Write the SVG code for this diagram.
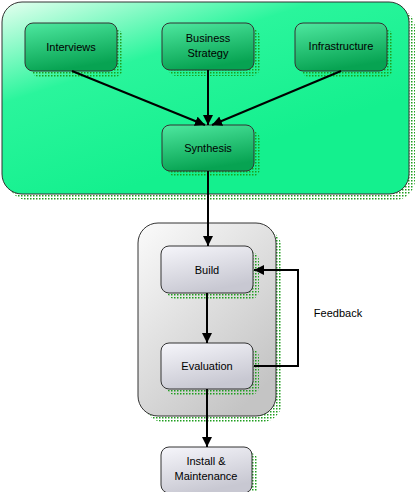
<svg xmlns="http://www.w3.org/2000/svg" width="416" height="492" viewBox="0 0 416 492">
<defs>
  <pattern id="dots" width="3" height="3" patternUnits="userSpaceOnUse">
    <rect x="0" y="0" width="1.5" height="1.5" fill="#1e9e1e"/>
  </pattern>
  <linearGradient id="gBig" x1="0" y1="0" x2="0.55" y2="0.8">
    <stop offset="0" stop-color="#e6fff0"/>
    <stop offset="0.45" stop-color="#2af59c"/>
    <stop offset="1" stop-color="#14f08e"/>
  </linearGradient>
  <linearGradient id="gNode" x1="0" y1="0" x2="0.3" y2="1">
    <stop offset="0" stop-color="#4ee8a0"/>
    <stop offset="1" stop-color="#07a352"/>
  </linearGradient>
  <linearGradient id="gGray" x1="0" y1="0" x2="0.7" y2="1">
    <stop offset="0" stop-color="#fbfbfb"/>
    <stop offset="1" stop-color="#c4c4c4"/>
  </linearGradient>
  <linearGradient id="gGNode" x1="0" y1="0" x2="0.4" y2="1">
    <stop offset="0" stop-color="#f6f6fb"/>
    <stop offset="1" stop-color="#c8c8d2"/>
  </linearGradient>
  <marker id="arr" viewBox="0 0 10 10" refX="10" refY="5" markerWidth="10" markerHeight="10" markerUnits="userSpaceOnUse" orient="auto">
    <path d="M0,0 L10,5 L0,10 z" fill="#000"/>
  </marker>
</defs>
<style>
  .shadow { fill: url(#dots); }
  .box { stroke: #333; stroke-width: 1; }
  .gn { fill: url(#gNode); }
  .gg { fill: url(#gGNode); }
  text { font-family: "Liberation Sans", Arial, sans-serif; font-size: 11px; fill: #000; text-anchor: middle; }
  .conn path, .conn line { stroke: #000; stroke-width: 2; fill: none; marker-end: url(#arr); }
</style>

<g id="group-discovery">
  <rect class="shadow" x="8" y="8" width="407" height="192" rx="20"/>
  <rect x="2" y="2" width="407" height="192" rx="20" fill="url(#gBig)" class="box"/>
</g>
<g id="group-dev">
  <rect class="shadow" x="144" y="229" width="138" height="193" rx="20"/>
  <rect x="138" y="223" width="138" height="193" rx="20" fill="url(#gGray)" class="box"/>
</g>

<g id="interviews">
  <rect class="shadow" x="31" y="29" width="92" height="48" rx="8"/>
  <rect class="box gn" x="25" y="23" width="92" height="48" rx="8"/>
  <text x="71" y="51">Interviews</text>
</g>
<g id="business-strategy">
  <rect class="shadow" x="168" y="29" width="92" height="47" rx="8"/>
  <rect class="box gn" x="162" y="23" width="92" height="47" rx="8"/>
  <text x="208" y="42">Business</text>
  <text x="208" y="57">Strategy</text>
</g>
<g id="infrastructure">
  <rect class="shadow" x="301" y="29" width="92" height="48" rx="8"/>
  <rect class="box gn" x="295" y="23" width="92" height="48" rx="8"/>
  <text x="341" y="50">Infrastructure</text>
</g>
<g id="synthesis">
  <rect class="shadow" x="168" y="131" width="92" height="46" rx="8"/>
  <rect class="box gn" x="162" y="125" width="92" height="46" rx="8"/>
  <text x="208" y="152">Synthesis</text>
</g>
<g id="build">
  <rect class="shadow" x="167" y="252" width="92" height="47" rx="8"/>
  <rect class="box gg" x="161" y="246" width="92" height="47" rx="8"/>
  <text x="207" y="274">Build</text>
</g>
<g id="evaluation">
  <rect class="shadow" x="167" y="349" width="92" height="46" rx="8"/>
  <rect class="box gg" x="161" y="343" width="92" height="46" rx="8"/>
  <text x="207" y="370">Evaluation</text>
</g>
<g id="install">
  <rect class="shadow" x="167" y="453" width="91" height="46" rx="8"/>
  <rect class="box gg" x="161" y="447" width="91" height="46" rx="8"/>
  <text x="206" y="465">Install  &amp;</text>
  <text x="206" y="480">Maintenance</text>
</g>

<g class="conn" id="connectors">
  <line x1="72" y1="71" x2="205" y2="125"/>
  <line x1="208" y1="70" x2="208" y2="125"/>
  <line x1="341" y1="71" x2="212" y2="125"/>
  <line x1="208" y1="171" x2="208" y2="246"/>
  <line x1="207" y1="293" x2="207" y2="343"/>
  <line x1="207" y1="389" x2="207" y2="447"/>
  <path d="M254,366 L298,366 L298,270 L254,270"/>
  <text x="338" y="317">Feedback</text>
</g>
</svg>
